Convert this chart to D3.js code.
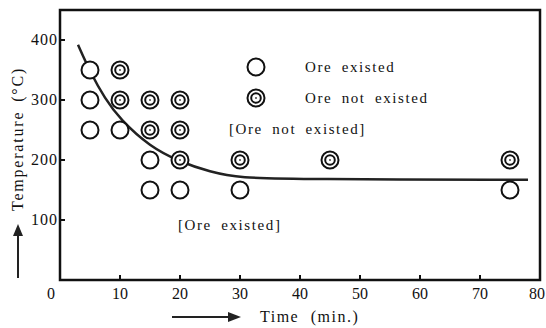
<!DOCTYPE html>
<html lang="en">
<head>
  <meta charset="UTF-8">
  <title>Ore vs Time</title>
  <style>
    body { margin: 0; background: #fff; }
    text { font-family: 'Liberation Serif', 'DejaVu Serif', serif; fill: #111; }
    .note { font-size: 15px; letter-spacing: 1.6px; word-spacing: 4px; }
  </style>
</head>
<body>

  <svg id="svg" width="546" height="328"></svg>

  <script src="https://d3js.org/d3.v7.min.js"></script>
  <script>
    // open circles: ore existed
    const oreExisted = [
      [5, 350], [5, 300], [5, 250], [10, 250],
      [15, 200], [15, 150], [20, 150], [30, 150], [75, 150]
    ]
    // double circles: ore not existed
    const oreNotExisted = [
      [10, 350], [10, 300], [15, 300], [20, 300],
      [15, 250], [20, 250], [20, 200], [30, 200], [45, 200], [75, 200]
    ]
    // boundary curve
    const boundary = [
      [3, 392], [5, 347], [7.5, 302], [10, 268], [15, 222],
      [20, 197], [25, 180], [30, 170], [40, 168], [78, 167]
    ]
    const xTicks = [0, 10, 20, 30, 40, 50, 60, 70, 80]
    const yTicks = [100, 200, 300, 400]

    const svg = d3.select('#svg')

    const xScale = d3.scaleLinear()
      .domain([0, 80])
      .range([60, 540])

    const yScale = d3.scaleLinear()
      .domain([0, 450])
      .range([280, 10])

    // frame
    svg.append('rect')
      .attr('x', xScale(0))
      .attr('y', yScale(450))
      .attr('width', xScale(80) - xScale(0))
      .attr('height', yScale(0) - yScale(450))
      .attr('fill', 'none')
      .attr('stroke', '#111')
      .attr('stroke-width', 2.5)

    // x ticks (inward)
    svg.selectAll('.xtick')
      .data(xTicks.slice(1, -1))
      .enter()
      .append('line')
      .attr('x1', d => xScale(d))
      .attr('x2', d => xScale(d))
      .attr('y1', yScale(0))
      .attr('y2', yScale(0) - 5)
      .attr('stroke', '#111')
      .attr('stroke-width', 2)

    svg.selectAll('.xlabel')
      .data(xTicks)
      .enter()
      .append('text')
      .text(d => d)
      .attr('x', d => d === 0 ? xScale(d) - 9 : d === 80 ? 545 : xScale(d))
      .attr('y', 299)
      .attr('text-anchor', d => d === 80 ? 'end' : 'middle')
      .style('font-size', '16px')

    // y ticks (inward)
    svg.selectAll('.ytick')
      .data(yTicks)
      .enter()
      .append('line')
      .attr('x1', xScale(0))
      .attr('x2', xScale(0) + 5)
      .attr('y1', d => yScale(d))
      .attr('y2', d => yScale(d))
      .attr('stroke', '#111')
      .attr('stroke-width', 2)

    svg.selectAll('.ylabel')
      .data(yTicks)
      .enter()
      .append('text')
      .text(d => d)
      .attr('x', xScale(0) - 2)
      .attr('y', d => yScale(d) + 5)
      .attr('text-anchor', 'end')
      .style('font-size', '16px')
      .style('letter-spacing', '1px')

    // boundary curve
    svg.append('path')
      .attr('d', d3.line()
        .x(d => xScale(d[0]))
        .y(d => yScale(d[1]))
        .curve(d3.curveBasis)(boundary))
      .attr('fill', 'none')
      .attr('stroke', '#222')
      .attr('stroke-width', 2.5)

    // markers
    function openCircle(g) {
      g.append('circle')
        .attr('r', 8.5)
        .attr('fill', '#fff')
        .attr('stroke', '#111')
        .attr('stroke-width', 2)
    }
    function doubleCircle(g) {
      g.append('circle')
        .attr('r', 8.5)
        .attr('fill', '#fff')
        .attr('stroke', '#111')
        .attr('stroke-width', 2)
      g.append('circle')
        .attr('r', 4.8)
        .attr('fill', 'none')
        .attr('stroke', '#111')
        .attr('stroke-width', 2)
      g.append('circle')
        .attr('r', 0.9)
        .attr('fill', '#333')
    }

    svg.selectAll('.open')
      .data(oreExisted)
      .enter()
      .append('g')
      .attr('transform', d => `translate(${xScale(d[0])},${yScale(d[1])})`)
      .call(openCircle)

    svg.selectAll('.double')
      .data(oreNotExisted)
      .enter()
      .append('g')
      .attr('transform', d => `translate(${xScale(d[0])},${yScale(d[1])})`)
      .call(doubleCircle)

    // legend
    svg.append('g').attr('transform', 'translate(256,67)').call(openCircle)
    svg.append('g').attr('transform', 'translate(256,98)').call(doubleCircle)

    svg.append('text').text('Ore existed').attr('class', 'note')
      .attr('x', 305).attr('y', 72)
    svg.append('text').text('Ore not existed').attr('class', 'note')
      .attr('x', 305).attr('y', 103)

    svg.append('text').text('[Ore not existed]').attr('class', 'note')
      .attr('x', 229).attr('y', 134)
    svg.append('text').text('[Ore existed]').attr('class', 'note')
      .attr('x', 178).attr('y', 230)

    // axis titles with arrows
    svg.append('text').text('Temperature  (°C)')
      .attr('transform', 'translate(23,139) rotate(-90)')
      .attr('text-anchor', 'middle')
      .style('font-size', '16px')
      .style('letter-spacing', '1.8px')
      .style('word-spacing', '3px')

    svg.append('line')
      .attr('x1', 18).attr('x2', 18)
      .attr('y1', 278).attr('y2', 232)
      .attr('stroke', '#222').attr('stroke-width', 2)
    svg.append('path')
      .attr('d', d3.line()([[13, 236], [18, 224], [23, 236]]))
      .attr('fill', '#222')

    svg.append('line')
      .attr('x1', 172).attr('x2', 232)
      .attr('y1', 317).attr('y2', 317)
      .attr('stroke', '#222').attr('stroke-width', 2)
    svg.append('path')
      .attr('d', d3.line()([[228, 312], [241, 317], [228, 322]]))
      .attr('fill', '#222')

    svg.append('text').text('Time   (min.)')
      .attr('x', 260).attr('y', 322)
      .style('font-size', '16px')
      .style('letter-spacing', '1.5px')
      .style('word-spacing', '6px')
  </script>
</body>
</html>
